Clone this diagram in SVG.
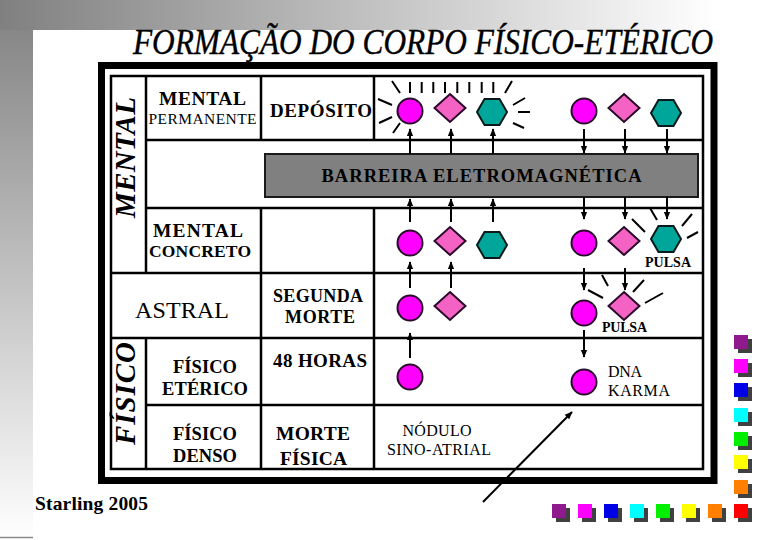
<svg xmlns="http://www.w3.org/2000/svg" xmlns:xlink="http://www.w3.org/1999/xlink" width="780" height="540" viewBox="0 0 780 540">
<style>
.t{font-family:"Liberation Serif","Times New Roman","DejaVu Serif","Noto Serif",serif;fill:#000}
.b{font-weight:bold}
.grid{stroke:#000;stroke-width:2.5;fill:none}
.ar{stroke:#000;stroke-width:2;fill:none;marker-end:url(#ah)}
.ray{stroke:#000;stroke-width:2;fill:none;stroke-linecap:butt}
.ci{fill:#FF00FF;stroke:#2a0a2a;stroke-width:2}
.di{fill:#F462C4;stroke:#2a0a2a;stroke-width:2}
.hx{fill:#00A699;stroke:#0a1a1a;stroke-width:2}
.sh{fill:#404040}
</style>
<defs>
<linearGradient id="gTop" x1="0" y1="0" x2="780" y2="0" gradientUnits="userSpaceOnUse">
<stop offset="0" stop-color="#808080"/><stop offset="0.92" stop-color="#ffffff"/></linearGradient>
<linearGradient id="gLeft" x1="0" y1="0" x2="0" y2="540" gradientUnits="userSpaceOnUse">
<stop offset="0" stop-color="#808080"/><stop offset="1" stop-color="#ffffff"/></linearGradient>
<marker id="ah" viewBox="0 0 10 10" refX="9" refY="5" markerWidth="8" markerHeight="8" markerUnits="userSpaceOnUse" orient="auto">
<path d="M0,1 L10,5 L0,9 z" fill="#000"/></marker>
<circle id="c" r="12.5"/>
<polygon id="d" points="0,-14 15.5,0 0,14 -15.5,0"/>
<polygon id="h" points="-15,0 -7.5,-13 7.5,-13 15,0 7.5,13 -7.5,13"/>
<rect id="sq" width="14" height="14"/>
</defs>

<g id="background">
<rect x="0" y="0" width="780" height="540" fill="#ffffff"/>
<rect x="0" y="0" width="780" height="30" fill="url(#gTop)"/>
<rect x="0" y="30" width="33" height="506" fill="url(#gLeft)"/>
<line x1="0" y1="537.5" x2="33" y2="537.5" stroke="#8a8a8a" stroke-width="1.5"/>
</g>

<g id="title">
<text class="t" x="423" y="54" font-size="35" font-style="italic" text-anchor="middle" textLength="580" lengthAdjust="spacingAndGlyphs" stroke="#000" stroke-width="0.4">FORMAÇÃO DO CORPO FÍSICO-ETÉRICO</text>
</g>

<g id="frame">
<rect x="101.5" y="65.5" width="612.5" height="415" fill="none" stroke="#000" stroke-width="7"/>
<rect x="111" y="76" width="592" height="393" class="grid"/>
<path class="grid" d="M146,140 H703 M146,208 H703 M111,273 H703 M111,338 H703 M146,405 H703 M146,76 V273 M146,338 V469 M261,76 V140 M261,208 V469 M374,76 V140 M374,208 V469"/>
</g>

<g id="barreira">
<rect x="265" y="154" width="433" height="43" fill="#808080" stroke="#1a1a1a" stroke-width="2"/>
<text class="t b" x="481.5" y="182" font-size="18.5" text-anchor="middle" textLength="320">BARREIRA ELETROMAGNÉTICA</text>
</g>

<g id="label-mental-vertical">
<text class="t b" font-size="29" font-style="italic" text-anchor="middle" textLength="121" transform="translate(135,157.5) rotate(-90)">MENTAL</text>
</g>
<g id="label-fisico-vertical">
<text class="t b" font-size="29" font-style="italic" text-anchor="middle" textLength="103" transform="translate(135,393.5) rotate(-90)">FÍSICO</text>
</g>

<g id="cell-mental-permanente">
<text class="t b" x="202.5" y="105" font-size="19.5" text-anchor="middle" textLength="87">MENTAL</text>
<text class="t" x="202.5" y="124" font-size="15.5" text-anchor="middle" textLength="108">PERMANENTE</text>
</g>
<g id="cell-deposito">
<text class="t b" x="321" y="117" font-size="19" text-anchor="middle" textLength="102">DEPÓSITO</text>
</g>
<g id="cell-mental-concreto">
<text class="t b" x="198" y="237" font-size="19.5" text-anchor="middle" textLength="90">MENTAL</text>
<text class="t b" x="200" y="257" font-size="17.5" text-anchor="middle" textLength="102">CONCRETO</text>
</g>
<g id="cell-astral">
<text class="t" x="182" y="318" font-size="24" text-anchor="middle" textLength="94">ASTRAL</text>
</g>
<g id="cell-segunda-morte">
<text class="t b" x="318" y="302" font-size="18" text-anchor="middle" textLength="90">SEGUNDA</text>
<text class="t b" x="320" y="323" font-size="18" text-anchor="middle" textLength="70">MORTE</text>
</g>
<g id="cell-fisico-eterico">
<text class="t b" x="205" y="373" font-size="18.5" text-anchor="middle" textLength="64">FÍSICO</text>
<text class="t b" x="205" y="395" font-size="18.5" text-anchor="middle" textLength="86">ETÉRICO</text>
</g>
<g id="cell-48-horas">
<text class="t b" x="320" y="367" font-size="19" text-anchor="middle" textLength="94">48 HORAS</text>
</g>
<g id="cell-fisico-denso">
<text class="t b" x="205" y="440" font-size="18.5" text-anchor="middle" textLength="64">FÍSICO</text>
<text class="t b" x="205" y="462" font-size="18.5" text-anchor="middle" textLength="64">DENSO</text>
</g>
<g id="cell-morte-fisica">
<text class="t b" x="313" y="440" font-size="19.5" text-anchor="middle" textLength="74">MORTE</text>
<text class="t b" x="313.5" y="465" font-size="19.5" text-anchor="middle" textLength="67">FÍSICA</text>
</g>
<g id="label-nodulo">
<text class="t" x="437" y="436" font-size="16" text-anchor="middle" textLength="69">NÓDULO</text>
<text class="t" x="439" y="455" font-size="16" text-anchor="middle" textLength="104">SINO-ATRIAL</text>
</g>
<g id="label-dna-karma">
<text class="t" x="608" y="377" font-size="16" textLength="34">DNA</text>
<text class="t" x="608" y="396" font-size="16" textLength="62">KARMA</text>
</g>
<g id="label-pulsa-1">
<text class="t b" x="645" y="267" font-size="14" textLength="46">PULSA</text>
</g>
<g id="label-pulsa-2">
<text class="t b" x="602" y="332" font-size="14" textLength="45">PULSA</text>
</g>
<g id="label-starling">
<text class="t b" x="35" y="510" font-size="19.5" textLength="113">Starling 2005</text>
</g>

<g id="rays">
<path class="ray" d="M392,81 L400,93 M410,82 V93 M421.7,82 V93 M433.3,82 V93 M445,82 V93 M457.3,82 V93 M469.3,82 V93 M481.7,82 V93 M493.3,82 V93 M505,93 L512,81 M378,99 L392,105 M379,123 L392,117 M393,133 L400,123 M513,105 L525,98 M518,112 L530,112 M513,123 L524,128"/>
<path class="ray" d="M650,208 L657,220 M632,219 L645,232 M682,226 L692,214 M687,238 L698,232"/>
<path class="ray" d="M602,275 L608,286 M588,290 L603,298 M633,292 L644,280 M645,303 L663,293"/>
</g>

<g id="connectors">
<line class="ar" x1="410" y1="154" x2="410" y2="129"/>
<line class="ar" x1="451" y1="154" x2="451" y2="129"/>
<line class="ar" x1="493" y1="154" x2="493" y2="129"/>
<line class="ar" x1="584" y1="129" x2="584" y2="153"/>
<line class="ar" x1="625" y1="129" x2="625" y2="153"/>
<line class="ar" x1="667" y1="129" x2="667" y2="153"/>
<line class="ar" x1="410" y1="222" x2="410" y2="199"/>
<line class="ar" x1="451" y1="222" x2="451" y2="199"/>
<line class="ar" x1="493" y1="222" x2="493" y2="199"/>
<line class="ar" x1="584" y1="197" x2="584" y2="219"/>
<line class="ar" x1="625" y1="197" x2="625" y2="219"/>
<line class="ar" x1="667" y1="197" x2="667" y2="219"/>
<line class="ar" x1="410" y1="288" x2="410" y2="262"/>
<line class="ar" x1="451" y1="288" x2="451" y2="262"/>
<line class="ar" x1="584" y1="268" x2="584" y2="290"/>
<line class="ar" x1="625" y1="268" x2="625" y2="290"/>
<line class="ar" x1="410" y1="358" x2="410" y2="333"/>
<line class="ar" x1="584" y1="330" x2="584" y2="357"/>
<line class="ar" x1="483" y1="502" x2="572" y2="412"/>
</g>

<g id="n-top-circle-1"><use xlink:href="#c" x="410" y="111" class="ci"/></g>
<g id="n-top-diamond-1"><use xlink:href="#d" x="450" y="108" class="di"/></g>
<g id="n-top-hex-1"><use xlink:href="#h" x="492" y="112" class="hx"/></g>
<g id="n-top-circle-2"><use xlink:href="#c" x="584" y="111" class="ci"/></g>
<g id="n-top-diamond-2"><use xlink:href="#d" x="624" y="108" class="di"/></g>
<g id="n-top-hex-2"><use xlink:href="#h" x="666" y="113" class="hx"/></g>

<g id="n-mc-circle-1"><use xlink:href="#c" x="410" y="243" class="ci"/></g>
<g id="n-mc-diamond-1"><use xlink:href="#d" x="450" y="241" class="di"/></g>
<g id="n-mc-hex-1"><use xlink:href="#h" x="492" y="245" class="hx"/></g>
<g id="n-mc-circle-2"><use xlink:href="#c" x="584" y="243" class="ci"/></g>
<g id="n-mc-diamond-2"><use xlink:href="#d" x="624" y="241" class="di"/></g>
<g id="n-mc-hex-2"><use xlink:href="#h" x="666" y="239" class="hx"/></g>

<g id="n-as-circle-1"><use xlink:href="#c" x="410" y="308" class="ci"/></g>
<g id="n-as-diamond-1"><use xlink:href="#d" x="450" y="306" class="di"/></g>
<g id="n-as-circle-2"><use xlink:href="#c" x="584" y="313" class="ci"/></g>
<g id="n-as-diamond-2"><use xlink:href="#d" x="624" y="306" class="di"/></g>

<g id="n-fe-circle-1"><use xlink:href="#c" x="410" y="377" class="ci"/></g>
<g id="n-fe-circle-2"><use xlink:href="#c" x="584" y="382" class="ci"/></g>

<g id="color-squares">
<g transform="translate(4,4)" class="sh">
<use xlink:href="#sq" x="734" y="335"/><use xlink:href="#sq" x="734" y="359"/><use xlink:href="#sq" x="734" y="383"/><use xlink:href="#sq" x="734" y="408"/><use xlink:href="#sq" x="734" y="432"/><use xlink:href="#sq" x="734" y="455"/><use xlink:href="#sq" x="734" y="480"/><use xlink:href="#sq" x="734" y="504"/>
<use xlink:href="#sq" x="552" y="504"/><use xlink:href="#sq" x="578" y="504"/><use xlink:href="#sq" x="604" y="504"/><use xlink:href="#sq" x="630" y="504"/><use xlink:href="#sq" x="656" y="504"/><use xlink:href="#sq" x="682" y="504"/><use xlink:href="#sq" x="708" y="504"/>
</g>
<use xlink:href="#sq" x="734" y="335" fill="#8E1A8E"/>
<use xlink:href="#sq" x="734" y="359" fill="#FF00FF"/>
<use xlink:href="#sq" x="734" y="383" fill="#0000E6"/>
<use xlink:href="#sq" x="734" y="408" fill="#00FFFF"/>
<use xlink:href="#sq" x="734" y="432" fill="#00F000"/>
<use xlink:href="#sq" x="734" y="455" fill="#FFFF00"/>
<use xlink:href="#sq" x="734" y="480" fill="#FF8000"/>
<use xlink:href="#sq" x="734" y="504" fill="#FF0000"/>
<use xlink:href="#sq" x="552" y="504" fill="#8E1A8E"/>
<use xlink:href="#sq" x="578" y="504" fill="#FF00FF"/>
<use xlink:href="#sq" x="604" y="504" fill="#0000E6"/>
<use xlink:href="#sq" x="630" y="504" fill="#00FFFF"/>
<use xlink:href="#sq" x="656" y="504" fill="#00F000"/>
<use xlink:href="#sq" x="682" y="504" fill="#FFFF00"/>
<use xlink:href="#sq" x="708" y="504" fill="#FF8000"/>
</g>
</svg>
